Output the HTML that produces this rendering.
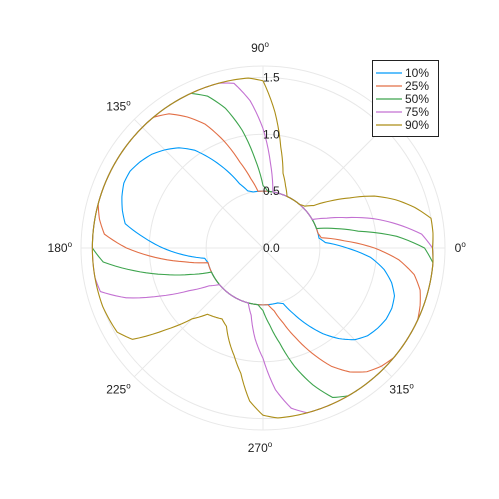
<!DOCTYPE html>
<html><head><meta charset="utf-8"><style>
body{margin:0;background:#fff;}
svg{display:block;font-family:"Liberation Sans",sans-serif;}
</style></head><body>
<svg id="chart" width="499" height="499" viewBox="0 0 499 499">
<rect width="499" height="499" fill="#fff"/>
<g id="grid"></g>
<g id="series"></g>
<g id="labels"></g>
<g id="legend"></g>
</svg>
<script>
const angleStep = 5;
const seriesNames = ["10%","25%","50%","75%","90%"];
const seriesColors = ["#009af9","#e26f46","#3da44d","#c371d2","#ac8e18"];
const rTicks = [0.0,0.5,1.0,1.5];
const rTickLabels = ["0.0","0.5","1.0","1.5"];
const thetaTicks = [0,45,90,135,180,225,270,315];
const thetaLabelsShown = [0,90,135,180,225,270,315];
const rMax = 1.6;

const s10 = [0.74,0.55,0.5,
0.5,0.5,0.5,0.5,0.5,0.5,0.5,0.5,0.5,0.5,0.5,0.5,0.5,0.5,0.5,0.5,0.5,0.5,
0.52,0.6,0.75,0.9,1.05,1.15,1.22,1.28,1.32,1.35,1.35,1.32,1.28,1.23,1.05,0.88,0.7,0.52,
0.5,0.5,0.5,0.5,0.5,0.5,0.5,0.5,0.5,0.5,0.5,0.5,0.5,0.5,0.5,0.5,0.5,0.5,0.5,
0.52,0.64,0.78,0.92,1.04,1.14,1.2,1.23,1.25,1.25,1.23,1.17,1.08,0.95];
const s25 = [0.98,0.72,0.52,
0.5,0.5,0.5,0.5,0.5,0.5,0.5,0.5,0.5,0.5,0.5,0.5,0.5,0.5,0.5,0.5,
0.5,
0.62,0.78,1.0,1.2,1.33,1.44,
1.5,
1.5,1.5,1.5,1.5,1.5,1.5,1.5,
1.46,1.4,1.2,0.95,0.7,0.5,
0.5,0.5,0.5,0.5,0.5,0.5,0.5,0.5,0.5,0.5,0.5,0.5,0.5,0.5,0.5,0.5,
0.56,0.68,0.84,1.02,1.2,1.33,1.42,1.47,1.5,1.5,1.5,1.5,1.47,1.43,1.35,1.2];
const s50 = [1.42,1.18,0.85,0.66,0.5,
0.5,0.5,0.5,0.5,0.5,0.5,0.5,0.5,0.5,0.5,0.5,0.5,0.5,
0.55,0.78,1.05,1.27,1.42,1.5,
1.5,1.5,1.5,1.5,1.5,1.5,1.5,1.5,1.5,1.5,1.5,1.5,1.5,
1.41,1.15,0.9,0.68,0.5,
0.5,0.5,0.5,0.5,0.5,0.5,0.5,0.5,0.5,0.5,0.5,0.5,
0.55,0.68,0.85,1.08,1.28,1.45,
1.5,1.5,1.5,1.5,1.5,1.5,1.5,1.5,1.5,1.5,1.5,1.5];
const s75 = [1.49,1.4,1.2,1.0,0.78,0.62,0.5,
0.5,0.5,0.5,0.5,0.5,0.5,0.5,0.5,0.5,
0.5,0.75,1.05,1.3,1.47,
1.5,1.5,1.5,1.5,1.5,1.5,1.5,1.5,1.5,1.5,1.5,1.5,1.5,1.5,1.5,1.5,1.5,1.5,
1.48,1.28,1.0,0.75,0.58,0.5,
0.5,0.5,0.5,0.5,0.5,0.5,0.5,
0.6,0.8,0.97,1.25,1.43,
1.5,1.5,1.5,1.5,1.5,1.5,1.5,1.5,1.5,1.5,1.5,1.5,1.5,1.5,1.5];
const s90 = [1.49,1.5,1.5,1.38,1.24,1.08,0.88,0.72,0.58,0.52,
0.5,0.5,0.5,0.5,
0.58,0.68,0.9,1.2,1.47,
1.5,1.5,1.5,1.5,1.5,1.5,1.5,1.5,1.5,1.5,1.5,1.5,1.5,1.5,1.5,1.5,1.5,1.5,1.5,1.5,1.5,1.5,
1.49,1.48,1.4,1.12,0.88,0.76,0.74,0.72,0.76,0.87,0.98,1.12,1.35,1.47,
1.5,1.5,1.5,1.5,1.5,1.5,1.5,1.5,1.5,1.5,1.5,1.5,1.5,1.5,1.5,1.5,1.5];
const seriesValues = [s10,s25,s50,s75,s90];

const NS = "http://www.w3.org/2000/svg";
const cx = 263, cy = 248, R = 182;
function rScale(r){ return r / rMax * R; }
function px(theta, r){ return cx + rScale(r) * Math.cos(theta*Math.PI/180); }
function py(theta, r){ return cy - rScale(r) * Math.sin(theta*Math.PI/180); }
function mk(tag, attrs, parent){
  const e = document.createElementNS(NS, tag);
  for (const k in attrs) e.setAttribute(k, attrs[k]);
  parent.appendChild(e);
  return e;
}
const grid = document.getElementById('grid');
rTicks.forEach((t,i)=>{
  if (t === 0) return;
  const c = mk('circle',{cx:cx,cy:cy,r:rScale(t),fill:'none',stroke:'#e8e8e8','stroke-width':1},grid);
  
  
});
const outer = mk('circle',{cx:cx,cy:cy,r:R,fill:'none',stroke:'#e8e8e8','stroke-width':1},grid);


thetaTicks.forEach(t=>{
  const l = mk('line',{x1:cx,y1:cy,x2:px(t,rMax),y2:py(t,rMax),stroke:'#e8e8e8','stroke-width':1},grid);
  
  
});
const sg = document.getElementById('series');
const sub = 5;
seriesValues.forEach((vals,si)=>{
  let d = '';
  const n = vals.length;
  for (let i=0;i<n;i++){
    const r0 = vals[i], r1 = vals[(i+1)%n];
    for (let k=0;k<sub;k++){
      const f = k/sub;
      const th = (i+f)*angleStep;
      const r = r0 + (r1-r0)*f;
      d += ((i===0&&k===0)?'M':'L') + px(th,r).toFixed(2) + ' ' + py(th,r).toFixed(2) + ' ';
    }
  }
  d += 'Z';
  const p = mk('path',{d:d,fill:'none',stroke:seriesColors[si],'stroke-width':1.1,'stroke-linejoin':'round'},sg);
  
  
});
const lg = document.getElementById('labels');
rTicks.forEach((t,i)=>{
  const tx = mk('text',{x:cx,y:cy - rScale(t)+4,'font-size':12,fill:'#222'},lg);
  tx.textContent = rTickLabels[i];
  
  
});
thetaLabelsShown.forEach(t=>{
  const rr = rMax*1.1;
  const x = px(t,rr), y = py(t,rr);
  const tx = mk('text',{x:x-3,y:y+4,'font-size':12,fill:'#222','text-anchor':'middle'},lg);
  tx.textContent = String(t);
  const sp = mk('tspan',{dy:-5,'font-size':8},tx);
  sp.textContent = 'o';
  
  
});
const leg = document.getElementById('legend');
const box = mk('rect',{x:372.5,y:60.5,width:66,height:76,fill:'#fff',stroke:'#222','stroke-width':1},leg);


seriesNames.forEach((n,i)=>{
  const y = 73 + i*13;
  const g = mk('g',{},leg);
  
  
  mk('line',{x1:376,y1:y,x2:402,y2:y,stroke:seriesColors[i],'stroke-width':1.2},g);
  const tx = mk('text',{x:405,y:y+4,'font-size':12,fill:'#222'},g);
  tx.textContent = n;
});
</script>
</body></html>
